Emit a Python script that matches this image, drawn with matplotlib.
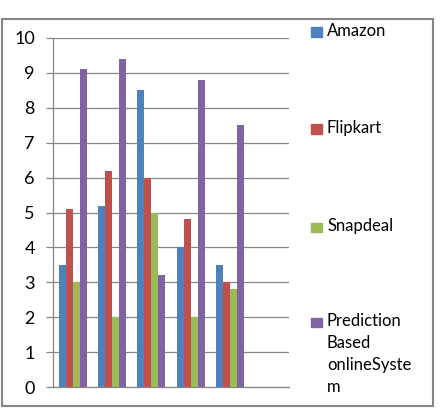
import matplotlib
matplotlib.use("Agg")
import matplotlib.pyplot as plt
from matplotlib.patches import Rectangle
import numpy as np

plt.rcParams['font.family'] = ['Lato', 'DejaVu Sans']

series = ["Amazon", "Flipkart", "Snapdeal", "Prediction\nBased\nonlineSyste\nm"]
colors = ["#4F81BD", "#C0504D", "#9BBB59", "#8064A2"]
amazon = [3.5, 5.2, 8.5, 4.0, 3.5]
flipkart = [5.1, 6.2, 6.0, 4.8, 3.0]
snapdeal = [3.0, 2.0, 5.0, 2.0, 2.8]
prediction = [9.1, 9.4, 3.2, 8.8, 7.5]
values = [amazon, flipkart, snapdeal, prediction]
n_slots = 6  # last category slot is empty
yticks = list(range(0, 11))

W, H = 445, 408
fig = plt.figure(figsize=(W / 100, H / 100), dpi=100)
ax = fig.add_axes([53 / W, 1 - 387 / H, (289 - 53) / W, (387 - 38) / H])

bw = 7 / ((289 - 53) / n_slots)
x = np.arange(len(amazon))
for i, (vals, c) in enumerate(zip(values, colors)):
    ax.bar(x + (i - 1.5) * bw, vals, width=bw, color=c, zorder=3)

ax.set_xlim(-0.5, n_slots - 0.5)
ax.set_ylim(0, 10)
ax.set_yticks(yticks)
ax.set_xticks([])
ax.yaxis.grid(True, color="#868686", linewidth=0.9, zorder=0)
for s in ["top", "right"]:
    ax.spines[s].set_visible(False)
ax.spines["left"].set_color("#868686")
ax.spines["bottom"].set_color("#868686")
ax.spines["left"].set_linewidth(0.9)
ax.spines["bottom"].set_linewidth(0.9)
ax.tick_params(axis="y", length=5, color="#868686", width=0.9, labelsize=13, pad=8, labelcolor="black")

# legend entries
ys = [32, 129, 227, 322]
for name, c, yc in zip(series, colors, ys):
    fig.patches.append(Rectangle((311 / W, 1 - (yc + 4.5) / H), 11 / W, 9 / H,
                                 transform=fig.transFigure, color=c))
    fig.text(327 / W, 1 - (yc - 9) / H, name, fontsize=12, va="top", ha="left",
             linespacing=1.45)

# outer border
fig.patches.append(Rectangle((1.5 / W, 1 - 406 / H), 431.5 / W, (406 - 19) / H,
                             transform=fig.transFigure, fill=False,
                             edgecolor="#868686", linewidth=1.5))

fig.savefig("out.png", dpi=100)
